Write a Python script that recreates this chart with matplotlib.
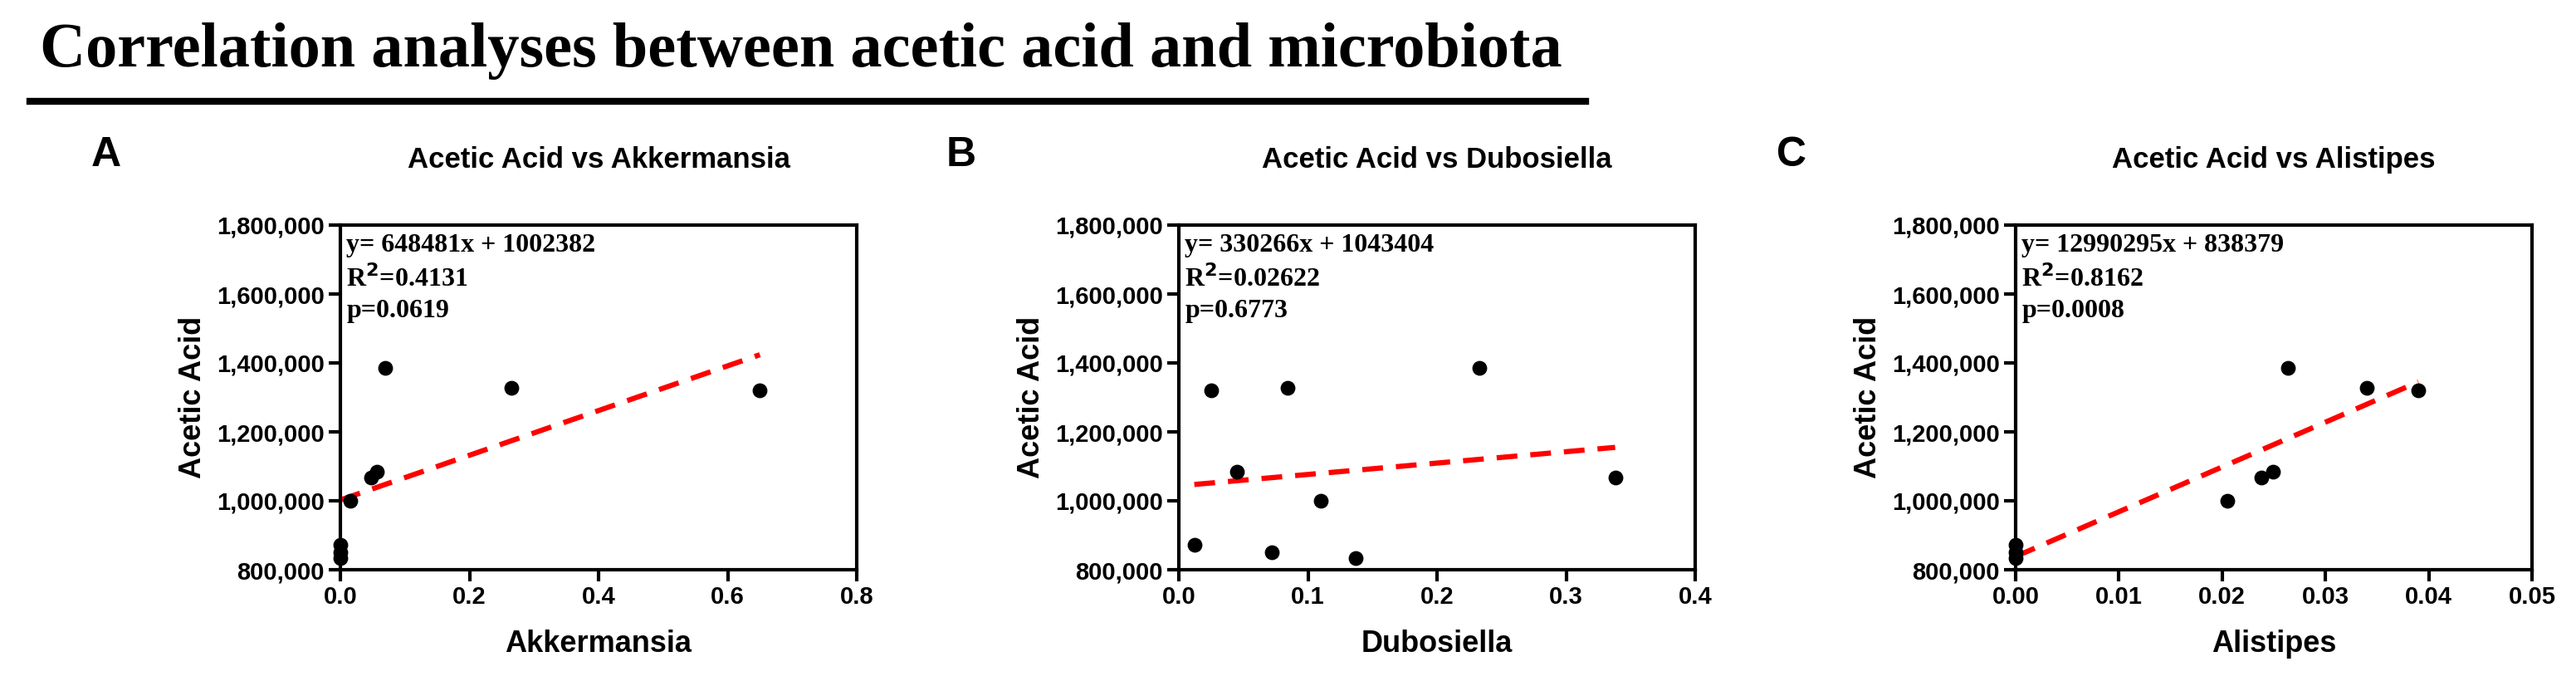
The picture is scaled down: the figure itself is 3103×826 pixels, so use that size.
import matplotlib
matplotlib.use("Agg")
import matplotlib.pyplot as plt
from matplotlib.ticker import FuncFormatter

acetic = [1385000, 1328000, 1320000, 1085000, 1068000, 1000000, 872000, 850000, 833000]
akkermansia = [0.070, 0.265, 0.650, 0.057, 0.048, 0.015, 0.0, 0.0, 0.0]
acetic_b = [1385000, 1328000, 1320000, 1085000, 1068000, 1000000, 872000, 850000, 833000]
dubosiella = [0.233, 0.084, 0.025, 0.045, 0.338, 0.110, 0.012, 0.072, 0.137]
alistipes = [0.0264, 0.0340, 0.0390, 0.0249, 0.0238, 0.0205, 0.0, 0.0, 0.0]

panels = [
    dict(letter="A", name="Akkermansia", x=akkermansia, y=acetic, slope=648481, icpt=1002382,
         eq="y= 648481x + 1002382", r2="0.4131", p="0.0619", xlim=(0, 0.8),
         xticks=[0.0, 0.2, 0.4, 0.6, 0.8], fmt="{:.1f}"),
    dict(letter="B", name="Dubosiella", x=dubosiella, y=acetic_b, slope=330266, icpt=1043404,
         eq="y= 330266x + 1043404", r2="0.02622", p="0.6773", xlim=(0, 0.4),
         xticks=[0.0, 0.1, 0.2, 0.3, 0.4], fmt="{:.1f}"),
    dict(letter="C", name="Alistipes", x=alistipes, y=acetic, slope=12990295, icpt=838379,
         eq="y= 12990295x + 838379", r2="0.8162", p="0.0008", xlim=(0, 0.05),
         xticks=[0.0, 0.01, 0.02, 0.03, 0.04, 0.05], fmt="{:.2f}"),
]

W, H = 3103, 826
fig = plt.figure(figsize=(W/100, H/100), dpi=100)
sans = "Liberation Sans"
serif = "Liberation Serif"

fig.text(48/W, 1-80/H, "Correlation analyses between acetic acid and microbiota",
         family=serif, weight="bold", fontsize=55, va="baseline", ha="left")
fig.add_artist(plt.Line2D([36/W, 1910/W], [1-122/H, 1-122/H], color="black", lw=6,
                          transform=fig.transFigure))

lefts = [410, 1420, 2428]
letter_x = [110, 1140, 2140]
for i, pd_ in enumerate(panels):
    l = lefts[i]
    ax = fig.add_axes([l/W, 1-686/H, 622/W, (686-271)/H])
    ax.scatter(pd_["x"], pd_["y"], s=140, color="black", zorder=3, clip_on=False)
    xs = [min(pd_["x"]), max(pd_["x"])]
    ax.plot(xs, [pd_["slope"]*v + pd_["icpt"] for v in xs], color="#ff0000",
            ls=(0, (4, 2.5)), lw=4.5, zorder=2)
    ax.set_xlim(*pd_["xlim"])
    ax.set_ylim(800000, 1800000)
    ax.set_yticks(range(800000, 1800001, 200000))
    ax.yaxis.set_major_formatter(FuncFormatter(lambda v, p: f"{int(v):,}"))
    ax.set_xticks(pd_["xticks"])
    f = pd_["fmt"]
    ax.set_xticklabels([f.format(v) for v in pd_["xticks"]])
    for s in ax.spines.values():
        s.set_linewidth(3)
    ax.tick_params(width=3, length=10, labelsize=21, pad=4)
    for t in ax.get_xticklabels() + ax.get_yticklabels():
        t.set_family(sans); t.set_weight("bold")
    ax.set_xlabel(pd_["name"], family=sans, weight="bold", fontsize=26, labelpad=18)
    ax.set_ylabel("Acetic Acid", family=sans, weight="bold", fontsize=26, labelpad=8)
    ax.set_title(f"Acetic Acid vs {pd_['name']}", family=sans, weight="bold",
                 fontsize=25, pad=50)
    ax.text(0.012, 0.975, pd_["eq"] + "\n" + r"R$^{\mathbf{2}}$=" + pd_["r2"] + "\np=" + pd_["p"],
            transform=ax.transAxes, va="top", ha="left", family=serif, weight="bold",
            fontsize=23, linespacing=1.35)
    fig.text(letter_x[i]/W, 1-200/H, pd_["letter"], family=sans, weight="bold",
             fontsize=36, ha="left", va="baseline")

fig.savefig("out.png", dpi=100)
